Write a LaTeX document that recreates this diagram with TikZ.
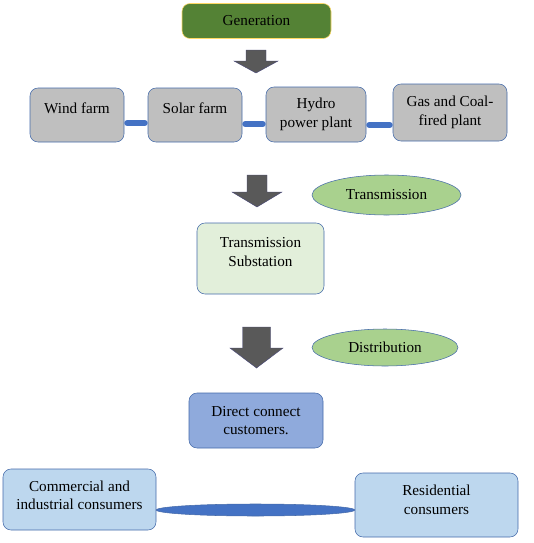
\documentclass[tikz,border=0pt]{standalone}
\usepackage{fontspec}
\setmainfont{Liberation Serif}
\usepackage{tikz}
\usetikzlibrary{positioning,calc,shapes.geometric}
\definecolor{gengreen}{RGB}{84,130,53}
\definecolor{gengold}{RGB}{255,217,102}
\definecolor{plantgray}{RGB}{191,191,191}
\definecolor{edgeblue}{RGB}{68,106,170}
\definecolor{linkblue}{RGB}{68,114,196}
\definecolor{stagegreen}{RGB}{169,209,142}
\definecolor{subgreen}{RGB}{226,239,218}
\definecolor{directblue}{RGB}{143,170,220}
\definecolor{consblue}{RGB}{189,215,238}
\definecolor{arrowgray}{RGB}{89,89,89}
\tikzset{
  stage/.style={draw=edgeblue, rounded corners=6pt, align=center, inner sep=1pt,
                font=\fontsize{11.4}{13.8}\selectfont},
  gen/.style={stage, draw=gengold, fill=gengreen},
  plant/.style={stage, fill=plantgray},
  label/.style={ellipse, draw=edgeblue, fill=stagegreen, inner sep=0pt,
                font=\fontsize{11.4}{13.8}\selectfont},
  link/.style={line width=4.5pt, linkblue, line cap=round,
               shorten <=2.25pt, shorten >=2.25pt},
  bigarrow/.style={fill=arrowgray, draw=arrowgray!80!blue, line width=0.3pt}
}
% down block arrow: centre x, top, neck, tip, half head, half shaft
\newcommand{\powerarrow}[6]{%
  \filldraw[bigarrow] (#1-#6,#2) -- (#1+#6,#2) -- (#1+#6,#3) -- (#1+#5,#3)
    -- (#1,#4) -- (#1-#5,#3) -- (#1-#6,#3) -- cycle;}

\begin{document}
\begin{tikzpicture}[x=0.75pt, y=-0.75pt]
  \useasboundingbox (0,0) rectangle (533,543);
  % generation
  \node[gen, minimum width=111.75pt, minimum height=26.25pt] (gen) at (256.5,21) {Generation};
  \powerarrow{256}{50}{61}{73}{22}{10}
  \node[plant, minimum width=70.5pt, minimum height=40.5pt, text depth=10pt] (wind) at (77,115) {Wind farm};
  \node[plant, minimum width=70.5pt, minimum height=40.5pt, text depth=10pt] (solar) at (195,115) {Solar farm};
  \node[plant, minimum width=75pt, minimum height=41.25pt] (hydro) at (316,114.5) {Hydro\\power plant};
  \node[plant, minimum width=85.5pt, minimum height=42.75pt] (gas) at (450,112.5) {Gas and Coal-\\fired plant};
  \draw[link] ($(wind.east)+(0,8)$) coordinate (ws) -- (ws -| solar.west);
  \draw[link] ($(solar.east)+(0,9)$) coordinate (sh) -- (sh -| hydro.west);
  \draw[link] ($(hydro.east)+(0,10.5)$) coordinate (hg) -- (hg -| gas.west);
  % transmission
  \powerarrow{257}{175}{192}{207}{25}{10}
  \node[label, minimum width=111.75pt, minimum height=30pt] (trans) at (386.5,195) {Transmission};
  \node[stage, fill=subgreen, minimum width=95.25pt, minimum height=53.25pt, text depth=10pt] (sub) at (260.5,258.5) {Transmission\\Substation};
  % distribution
  \powerarrow{256.5}{327}{348}{368}{26.5}{14}
  \node[label, minimum width=109.5pt, minimum height=27.75pt] (dist) at (385,347.5) {Distribution};
  \node[stage, fill=directblue, minimum width=100.5pt, minimum height=41.25pt] (direct) at (256,420.5) {Direct connect\\customers.};
  \node[stage, fill=consblue, minimum width=114.75pt, minimum height=45.75pt, text depth=6pt] (comm) at (79.5,499.5) {Commercial and\\industrial consumers};
  \node[stage, fill=consblue, minimum width=122.25pt, minimum height=48pt, text depth=8pt] (res) at (436.5,505) {Residential\\consumers};
  \coordinate (cr) at ($(comm.east)+(0,10.5)$);
  \coordinate (rc) at (cr -| res.west);
  \filldraw[fill=linkblue, draw=edgeblue] (cr)
    .. controls +(0,-3.3) and +(-55,0) .. ($(cr)!0.5!(rc)+(0,-6)$)
    .. controls +(55,0) and +(0,-3.3) .. (rc)
    .. controls +(0,3.3) and +(55,0) .. ($(cr)!0.5!(rc)+(0,6)$)
    .. controls +(-55,0) and +(0,3.3) .. (cr) -- cycle;
\end{tikzpicture}
\end{document}
